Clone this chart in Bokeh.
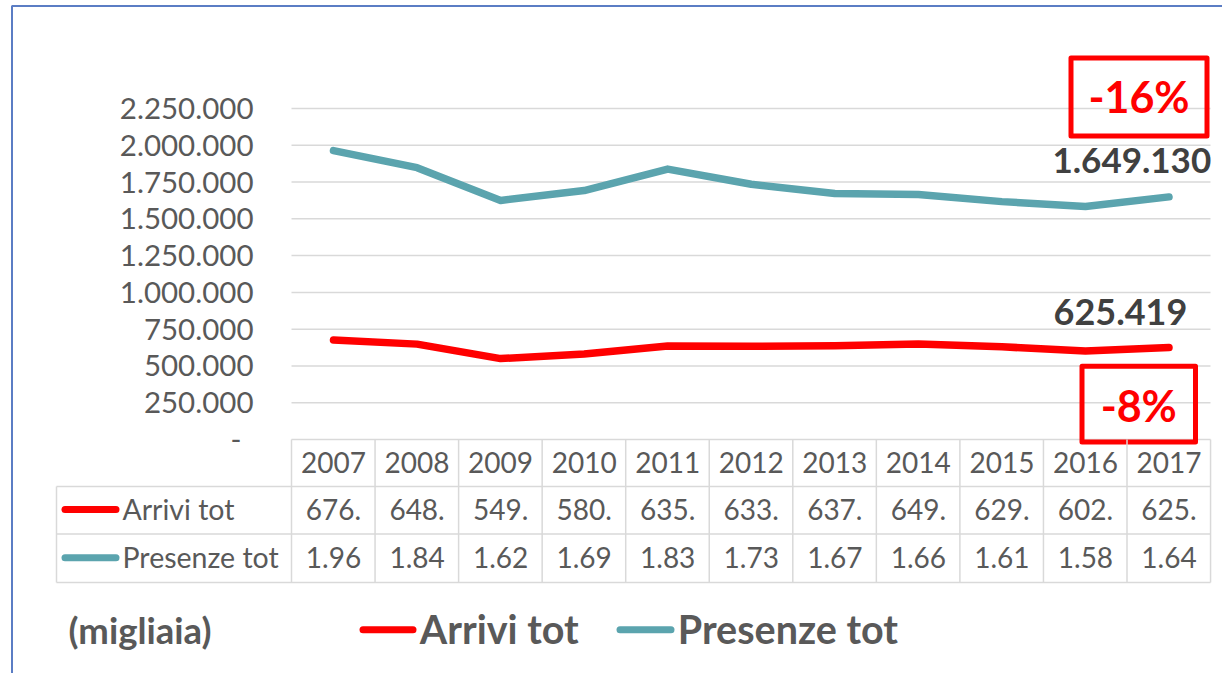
from bokeh.plotting import figure
from bokeh.models import Range1d
from bokeh.core.properties import value
from bokeh.embed import file_html
from bokeh.resources import INLINE

# ---------------- data ----------------
years = [2007, 2008, 2009, 2010, 2011, 2012, 2013, 2014, 2015, 2016, 2017]
arrivi_tot = [676400, 648300, 549800, 580500, 635700, 633600, 637100, 649200, 629800, 602300, 625419]
presenze_tot = [1964000, 1848000, 1625000, 1692000, 1838000, 1735000, 1672000, 1665000, 1617000, 1584000, 1649130]
series_names = ["Arrivi tot", "Presenze tot"]
series_colors = ["#FF0000", "#5BA4AE"]
y_ticks = [0, 250000, 500000, 750000, 1000000, 1250000, 1500000, 1750000, 2000000, 2250000]
change_labels = ["-8%", "-16%"]          # Arrivi, Presenze (2017 vs 2007)
unit_label = "(migliaia)"


def it_fmt(v):
    return f"{int(round(v)):,}".replace(",", ".")


# ---------------- layout (reference pixel geometry) ----------------
W, H = 1222, 673
PX_YEAR = 83.55
X_FIRST = 333.0
Y_ZERO = 439.0
PX_PER_UNIT = 331.0 / 2250000


def dx(rx):
    return years[0] + (rx - X_FIRST) / PX_YEAR


def dy(ry):
    return (Y_ZERO - ry) / PX_PER_UNIT


FONT = value("Lato")
GRAY_TXT = "#595959"
GRID = "#D9D9D9"

p = figure(width=W, height=H, output_backend="svg", toolbar_location=None,
           x_range=Range1d(dx(0), dx(W)), y_range=Range1d(dy(H), dy(0)),
           x_axis_location=None, y_axis_location=None, min_border=0)
p.grid.visible = False
p.outline_line_color = None
p.background_fill_color = "white"
p.border_fill_color = "white"

# outer chart frame (left and top visible)
p.quad(left=dx(11.5), right=dx(1500), top=dy(5.5), bottom=dy(1000),
       fill_color=None, line_color="#5B7DC4", line_width=2)

# horizontal gridlines
p.segment(x0=[dx(291)] * len(y_ticks), x1=[dx(1210)] * len(y_ticks), y0=y_ticks, y1=y_ticks,
          line_color=GRID, line_width=1.5)

# y tick labels
tick_text = ["-" if v == 0 else it_fmt(v) for v in y_ticks]
tick_xoff = [-12 if v == 0 else 0 for v in y_ticks]
p.text(x=[dx(253)] * len(y_ticks), y=y_ticks, text=tick_text, x_offset=tick_xoff, y_offset=0,
       text_align="right", text_baseline="alphabetic", text_font=FONT,
       text_font_size="29.5px", text_color=GRAY_TXT)

# data lines
series_values = [arrivi_tot, presenze_tot]
for vals, col in zip(series_values, series_colors):
    p.line(years, vals, line_color=col, line_width=7.5, line_cap="round", line_join="round")

# value labels at last point
val_labels = [(1053, 311, "36px"), (1052, 160.3, "35px")]
for vals, (lx, yc, fs) in zip(series_values, val_labels):
    p.text(x=[dx(lx)], y=[dy(yc)], text=[it_fmt(vals[-1])], text_align="left",
           text_baseline="alphabetic", text_font=FONT, text_font_style="bold",
           text_font_size=fs, text_color="#404040")

# percentage change boxes
boxes = [(1081.5, 1195, 365.8, 441.5, 405), (1070.5, 1206.5, 57.5, 135.5, 96.2)]
for (l, r, t, b, yc), lab in zip(boxes, change_labels):
    p.quad(left=dx(l), right=dx(r), top=dy(t), bottom=dy(b), fill_color=None,
           line_color="#FF0000", line_width=5, line_join="round")
    p.text(x=[dx((l + r) / 2)], y=[dy(yc)], text=[lab], text_align="center",
           text_baseline="alphabetic", text_font=FONT, text_font_style="bold",
           text_font_size="43px", text_color="#FF0000")

# ---------------- data table ----------------
col_edges = [291 + i * PX_YEAR for i in range(len(years) + 1)]
row_lines = [486, 533.5, 582]
p.segment(x0=[dx(56)] * 3, x1=[dx(1210)] * 3, y0=[dy(v) for v in row_lines], y1=[dy(v) for v in row_lines],
          line_color=GRID, line_width=1.5)
p.segment(x0=[dx(c) for c in col_edges], x1=[dx(c) for c in col_edges],
          y0=[dy(439)] * len(col_edges), y1=[dy(582)] * len(col_edges), line_color=GRID, line_width=1.5)
p.segment(x0=[dx(56)], x1=[dx(56)], y0=[dy(486)], y1=[dy(582)], line_color=GRID, line_width=1.5)

# header (years)
p.text(x=years, y=[dy(462)] * len(years), text=[str(y) for y in years], text_align="center",
       text_baseline="alphabetic", text_font=FONT, text_font_size="28px", text_color=GRAY_TXT)

row_centers = [508.7, 556.5]
row_mid = [509, 557.3]
for vals, name, col, yc, mid in zip(series_values, series_names, series_colors, row_centers, row_mid):
    cells = [it_fmt(v)[:4] for v in vals]
    p.text(x=years, y=[dy(yc)] * len(years), text=cells, text_align="center",
           text_baseline="alphabetic", text_font=FONT, text_font_size="28px", text_color=GRAY_TXT)
    p.segment(x0=[dx(64.5)], x1=[dx(115.5)], y0=[dy(mid)], y1=[dy(mid)], line_color=col,
              line_width=7, line_cap="round")
    p.text(x=[dx(122)], y=[dy(yc)], text=[name], text_align="left", text_baseline="alphabetic",
           text_font=FONT, text_font_size="28.5px", text_color=GRAY_TXT)

# ---------------- bottom legend ----------------
p.text(x=[dx(68)], y=[dy(629.2)], text=[unit_label], text_align="left", text_baseline="alphabetic",
       text_font=FONT, text_font_style="bold", text_font_size="36.5px", text_color=GRAY_TXT)
leg_lines = [(362.5, 412.5, 419.3), (619.5, 670.5, 677.3)]
for (a, b, tx), name, col in zip(leg_lines, series_names, series_colors):
    p.segment(x0=[dx(a)], x1=[dx(b)], y0=[dy(629.3)], y1=[dy(629.3)], line_color=col,
              line_width=7, line_cap="round")
    p.text(x=[dx(tx)], y=[dy(628.3)], text=[name], text_align="left", text_baseline="alphabetic",
           text_font=FONT, text_font_style="bold", text_font_size="39.5px", text_color=GRAY_TXT)

open("out.html", "w").write(file_html(p, INLINE))
